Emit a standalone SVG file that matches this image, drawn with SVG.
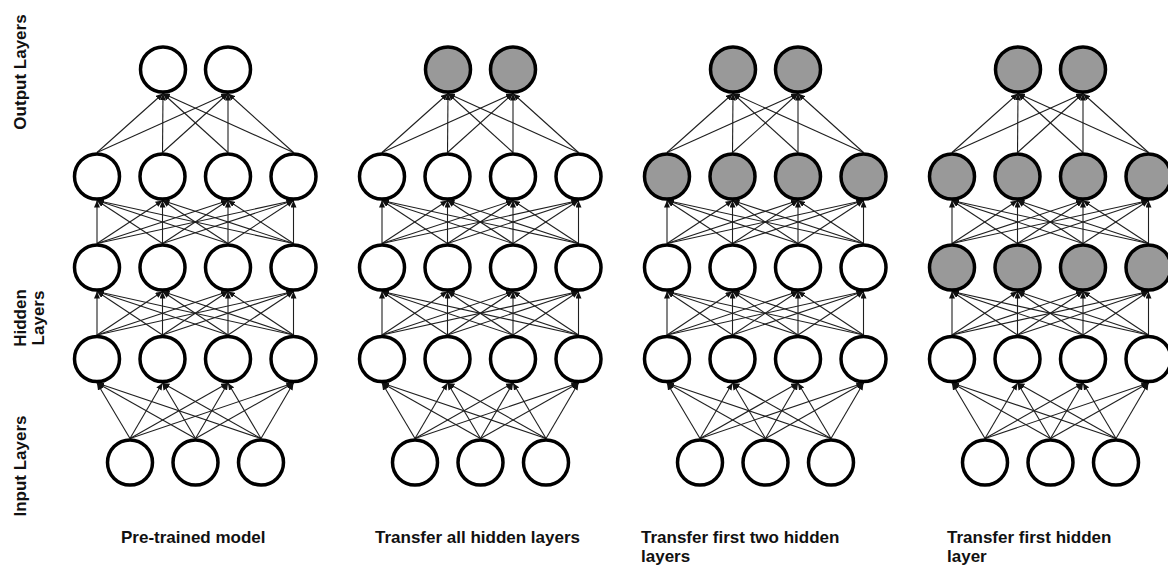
<svg xmlns="http://www.w3.org/2000/svg" xmlns:xlink="http://www.w3.org/1999/xlink" width="1168" height="565" viewBox="0 0 1168 565">
  <style>
    .bg { fill: #ffffff; }
    .node { stroke: #000000; stroke-width: 3.5; }
    .plain { fill: #ffffff; }
    .frozen { fill: #999999; }
    .link { stroke: #1f1f1f; stroke-width: 1.1; fill: none; marker-end: url(#ah); }
    .lbl { font-family: "Liberation Sans", Arial, sans-serif; font-weight: bold; font-size: 17px; fill: #111111; }
  </style>
  <defs>
    <marker id="ah" markerWidth="7" markerHeight="6" refX="7" refY="3" orient="auto" markerUnits="userSpaceOnUse">
      <path d="M0,0 L7,3 L0,6 z" fill="#111111"/>
    </marker>
    <!-- full set of layer-to-layer links for one network (first column) -->
    <g id="links">
      <!-- input -> hidden 1 -->
      <line class="link" x1="130" y1="438.5" x2="97" y2="383"/>
      <line class="link" x1="130" y1="438.5" x2="162.5" y2="383"/>
      <line class="link" x1="130" y1="438.5" x2="228" y2="383"/>
      <line class="link" x1="130" y1="438.5" x2="293.5" y2="383"/>
      <line class="link" x1="195.5" y1="438.5" x2="97" y2="383"/>
      <line class="link" x1="195.5" y1="438.5" x2="162.5" y2="383"/>
      <line class="link" x1="195.5" y1="438.5" x2="228" y2="383"/>
      <line class="link" x1="195.5" y1="438.5" x2="293.5" y2="383"/>
      <line class="link" x1="261" y1="438.5" x2="97" y2="383"/>
      <line class="link" x1="261" y1="438.5" x2="162.5" y2="383"/>
      <line class="link" x1="261" y1="438.5" x2="228" y2="383"/>
      <line class="link" x1="261" y1="438.5" x2="293.5" y2="383"/>
      <!-- hidden 1 -> hidden 2 -->
      <line class="link" x1="97" y1="335" x2="97" y2="291.5"/>
      <line class="link" x1="97" y1="335" x2="162.5" y2="291.5"/>
      <line class="link" x1="97" y1="335" x2="228" y2="291.5"/>
      <line class="link" x1="97" y1="335" x2="293.5" y2="291.5"/>
      <line class="link" x1="162.5" y1="335" x2="97" y2="291.5"/>
      <line class="link" x1="162.5" y1="335" x2="162.5" y2="291.5"/>
      <line class="link" x1="162.5" y1="335" x2="228" y2="291.5"/>
      <line class="link" x1="162.5" y1="335" x2="293.5" y2="291.5"/>
      <line class="link" x1="228" y1="335" x2="97" y2="291.5"/>
      <line class="link" x1="228" y1="335" x2="162.5" y2="291.5"/>
      <line class="link" x1="228" y1="335" x2="228" y2="291.5"/>
      <line class="link" x1="228" y1="335" x2="293.5" y2="291.5"/>
      <line class="link" x1="293.5" y1="335" x2="97" y2="291.5"/>
      <line class="link" x1="293.5" y1="335" x2="162.5" y2="291.5"/>
      <line class="link" x1="293.5" y1="335" x2="228" y2="291.5"/>
      <line class="link" x1="293.5" y1="335" x2="293.5" y2="291.5"/>
      <!-- hidden 2 -> hidden 3 -->
      <line class="link" x1="97" y1="243.5" x2="97" y2="200.5"/>
      <line class="link" x1="97" y1="243.5" x2="162.5" y2="200.5"/>
      <line class="link" x1="97" y1="243.5" x2="228" y2="200.5"/>
      <line class="link" x1="97" y1="243.5" x2="293.5" y2="200.5"/>
      <line class="link" x1="162.5" y1="243.5" x2="97" y2="200.5"/>
      <line class="link" x1="162.5" y1="243.5" x2="162.5" y2="200.5"/>
      <line class="link" x1="162.5" y1="243.5" x2="228" y2="200.5"/>
      <line class="link" x1="162.5" y1="243.5" x2="293.5" y2="200.5"/>
      <line class="link" x1="228" y1="243.5" x2="97" y2="200.5"/>
      <line class="link" x1="228" y1="243.5" x2="162.5" y2="200.5"/>
      <line class="link" x1="228" y1="243.5" x2="228" y2="200.5"/>
      <line class="link" x1="228" y1="243.5" x2="293.5" y2="200.5"/>
      <line class="link" x1="293.5" y1="243.5" x2="97" y2="200.5"/>
      <line class="link" x1="293.5" y1="243.5" x2="162.5" y2="200.5"/>
      <line class="link" x1="293.5" y1="243.5" x2="228" y2="200.5"/>
      <line class="link" x1="293.5" y1="243.5" x2="293.5" y2="200.5"/>
      <!-- hidden 3 -> output -->
      <line class="link" x1="97" y1="152.5" x2="163" y2="93.5"/>
      <line class="link" x1="97" y1="152.5" x2="228" y2="93.5"/>
      <line class="link" x1="162.5" y1="152.5" x2="163" y2="93.5"/>
      <line class="link" x1="162.5" y1="152.5" x2="228" y2="93.5"/>
      <line class="link" x1="228" y1="152.5" x2="163" y2="93.5"/>
      <line class="link" x1="228" y1="152.5" x2="228" y2="93.5"/>
      <line class="link" x1="293.5" y1="152.5" x2="163" y2="93.5"/>
      <line class="link" x1="293.5" y1="152.5" x2="228" y2="93.5"/>
    </g>
  </defs>

  <rect class="bg" x="0" y="0" width="1168" height="565"/>

  <!-- side labels -->
  <g id="side-labels">
    <text class="lbl" text-anchor="middle" transform="translate(26,72) rotate(-90)">Output Layers</text>
    <text class="lbl" text-anchor="middle" transform="translate(25.5,318) rotate(-90)">Hidden</text>
    <text class="lbl" text-anchor="middle" transform="translate(43.5,318) rotate(-90)">Layers</text>
    <text class="lbl" text-anchor="middle" transform="translate(26,466) rotate(-90)">Input Layers</text>
  </g>

  <!-- connectors -->
  <g id="connectors">
    <use xlink:href="#links" href="#links"/>
    <use xlink:href="#links" href="#links" transform="translate(285,0)"/>
    <use xlink:href="#links" href="#links" transform="translate(570,0)"/>
    <use xlink:href="#links" href="#links" transform="translate(855,0)"/>
  </g>

  <!-- network 1: pre-trained model -->
  <g id="net1">
    <g id="net1-out-1"><circle class="node plain" cx="163" cy="69.5" r="22.5"/></g>
    <g id="net1-out-2"><circle class="node plain" cx="228" cy="69.5" r="22.5"/></g>
    <g id="net1-h3-1"><circle class="node plain" cx="97" cy="176.5" r="22.5"/></g>
    <g id="net1-h3-2"><circle class="node plain" cx="162.5" cy="176.5" r="22.5"/></g>
    <g id="net1-h3-3"><circle class="node plain" cx="228" cy="176.5" r="22.5"/></g>
    <g id="net1-h3-4"><circle class="node plain" cx="293.5" cy="176.5" r="22.5"/></g>
    <g id="net1-h2-1"><circle class="node plain" cx="97" cy="267.5" r="22.5"/></g>
    <g id="net1-h2-2"><circle class="node plain" cx="162.5" cy="267.5" r="22.5"/></g>
    <g id="net1-h2-3"><circle class="node plain" cx="228" cy="267.5" r="22.5"/></g>
    <g id="net1-h2-4"><circle class="node plain" cx="293.5" cy="267.5" r="22.5"/></g>
    <g id="net1-h1-1"><circle class="node plain" cx="97" cy="359" r="22.5"/></g>
    <g id="net1-h1-2"><circle class="node plain" cx="162.5" cy="359" r="22.5"/></g>
    <g id="net1-h1-3"><circle class="node plain" cx="228" cy="359" r="22.5"/></g>
    <g id="net1-h1-4"><circle class="node plain" cx="293.5" cy="359" r="22.5"/></g>
    <g id="net1-in-1"><circle class="node plain" cx="130" cy="462.5" r="22.5"/></g>
    <g id="net1-in-2"><circle class="node plain" cx="195.5" cy="462.5" r="22.5"/></g>
    <g id="net1-in-3"><circle class="node plain" cx="261" cy="462.5" r="22.5"/></g>
    <text class="lbl" x="121" y="543">Pre-trained model</text>
  </g>

  <!-- network 2: transfer all hidden layers -->
  <g id="net2">
    <g id="net2-out-1"><circle class="node frozen" cx="448" cy="69.5" r="22.5"/></g>
    <g id="net2-out-2"><circle class="node frozen" cx="513" cy="69.5" r="22.5"/></g>
    <g id="net2-h3-1"><circle class="node plain" cx="382" cy="176.5" r="22.5"/></g>
    <g id="net2-h3-2"><circle class="node plain" cx="447.5" cy="176.5" r="22.5"/></g>
    <g id="net2-h3-3"><circle class="node plain" cx="513" cy="176.5" r="22.5"/></g>
    <g id="net2-h3-4"><circle class="node plain" cx="578.5" cy="176.5" r="22.5"/></g>
    <g id="net2-h2-1"><circle class="node plain" cx="382" cy="267.5" r="22.5"/></g>
    <g id="net2-h2-2"><circle class="node plain" cx="447.5" cy="267.5" r="22.5"/></g>
    <g id="net2-h2-3"><circle class="node plain" cx="513" cy="267.5" r="22.5"/></g>
    <g id="net2-h2-4"><circle class="node plain" cx="578.5" cy="267.5" r="22.5"/></g>
    <g id="net2-h1-1"><circle class="node plain" cx="382" cy="359" r="22.5"/></g>
    <g id="net2-h1-2"><circle class="node plain" cx="447.5" cy="359" r="22.5"/></g>
    <g id="net2-h1-3"><circle class="node plain" cx="513" cy="359" r="22.5"/></g>
    <g id="net2-h1-4"><circle class="node plain" cx="578.5" cy="359" r="22.5"/></g>
    <g id="net2-in-1"><circle class="node plain" cx="415" cy="462.5" r="22.5"/></g>
    <g id="net2-in-2"><circle class="node plain" cx="480.5" cy="462.5" r="22.5"/></g>
    <g id="net2-in-3"><circle class="node plain" cx="546" cy="462.5" r="22.5"/></g>
    <text class="lbl" x="375" y="543">Transfer all hidden layers</text>
  </g>

  <!-- network 3: transfer first two hidden layers -->
  <g id="net3">
    <g id="net3-out-1"><circle class="node frozen" cx="733" cy="69.5" r="22.5"/></g>
    <g id="net3-out-2"><circle class="node frozen" cx="798" cy="69.5" r="22.5"/></g>
    <g id="net3-h3-1"><circle class="node frozen" cx="667" cy="176.5" r="22.5"/></g>
    <g id="net3-h3-2"><circle class="node frozen" cx="732.5" cy="176.5" r="22.5"/></g>
    <g id="net3-h3-3"><circle class="node frozen" cx="798" cy="176.5" r="22.5"/></g>
    <g id="net3-h3-4"><circle class="node frozen" cx="863.5" cy="176.5" r="22.5"/></g>
    <g id="net3-h2-1"><circle class="node plain" cx="667" cy="267.5" r="22.5"/></g>
    <g id="net3-h2-2"><circle class="node plain" cx="732.5" cy="267.5" r="22.5"/></g>
    <g id="net3-h2-3"><circle class="node plain" cx="798" cy="267.5" r="22.5"/></g>
    <g id="net3-h2-4"><circle class="node plain" cx="863.5" cy="267.5" r="22.5"/></g>
    <g id="net3-h1-1"><circle class="node plain" cx="667" cy="359" r="22.5"/></g>
    <g id="net3-h1-2"><circle class="node plain" cx="732.5" cy="359" r="22.5"/></g>
    <g id="net3-h1-3"><circle class="node plain" cx="798" cy="359" r="22.5"/></g>
    <g id="net3-h1-4"><circle class="node plain" cx="863.5" cy="359" r="22.5"/></g>
    <g id="net3-in-1"><circle class="node plain" cx="700" cy="462.5" r="22.5"/></g>
    <g id="net3-in-2"><circle class="node plain" cx="765.5" cy="462.5" r="22.5"/></g>
    <g id="net3-in-3"><circle class="node plain" cx="831" cy="462.5" r="22.5"/></g>
    <text class="lbl" x="641" y="543">Transfer first two hidden</text>
    <text class="lbl" x="641" y="562">layers</text>
  </g>

  <!-- network 4: transfer first hidden layer -->
  <g id="net4">
    <g id="net4-out-1"><circle class="node frozen" cx="1018" cy="69.5" r="22.5"/></g>
    <g id="net4-out-2"><circle class="node frozen" cx="1083" cy="69.5" r="22.5"/></g>
    <g id="net4-h3-1"><circle class="node frozen" cx="952" cy="176.5" r="22.5"/></g>
    <g id="net4-h3-2"><circle class="node frozen" cx="1017.5" cy="176.5" r="22.5"/></g>
    <g id="net4-h3-3"><circle class="node frozen" cx="1083" cy="176.5" r="22.5"/></g>
    <g id="net4-h3-4"><circle class="node frozen" cx="1148.5" cy="176.5" r="22.5"/></g>
    <g id="net4-h2-1"><circle class="node frozen" cx="952" cy="267.5" r="22.5"/></g>
    <g id="net4-h2-2"><circle class="node frozen" cx="1017.5" cy="267.5" r="22.5"/></g>
    <g id="net4-h2-3"><circle class="node frozen" cx="1083" cy="267.5" r="22.5"/></g>
    <g id="net4-h2-4"><circle class="node frozen" cx="1148.5" cy="267.5" r="22.5"/></g>
    <g id="net4-h1-1"><circle class="node plain" cx="952" cy="359" r="22.5"/></g>
    <g id="net4-h1-2"><circle class="node plain" cx="1017.5" cy="359" r="22.5"/></g>
    <g id="net4-h1-3"><circle class="node plain" cx="1083" cy="359" r="22.5"/></g>
    <g id="net4-h1-4"><circle class="node plain" cx="1148.5" cy="359" r="22.5"/></g>
    <g id="net4-in-1"><circle class="node plain" cx="985" cy="462.5" r="22.5"/></g>
    <g id="net4-in-2"><circle class="node plain" cx="1050.5" cy="462.5" r="22.5"/></g>
    <g id="net4-in-3"><circle class="node plain" cx="1116" cy="462.5" r="22.5"/></g>
    <text class="lbl" x="947" y="543">Transfer first hidden</text>
    <text class="lbl" x="947" y="562">layer</text>
  </g>
</svg>
